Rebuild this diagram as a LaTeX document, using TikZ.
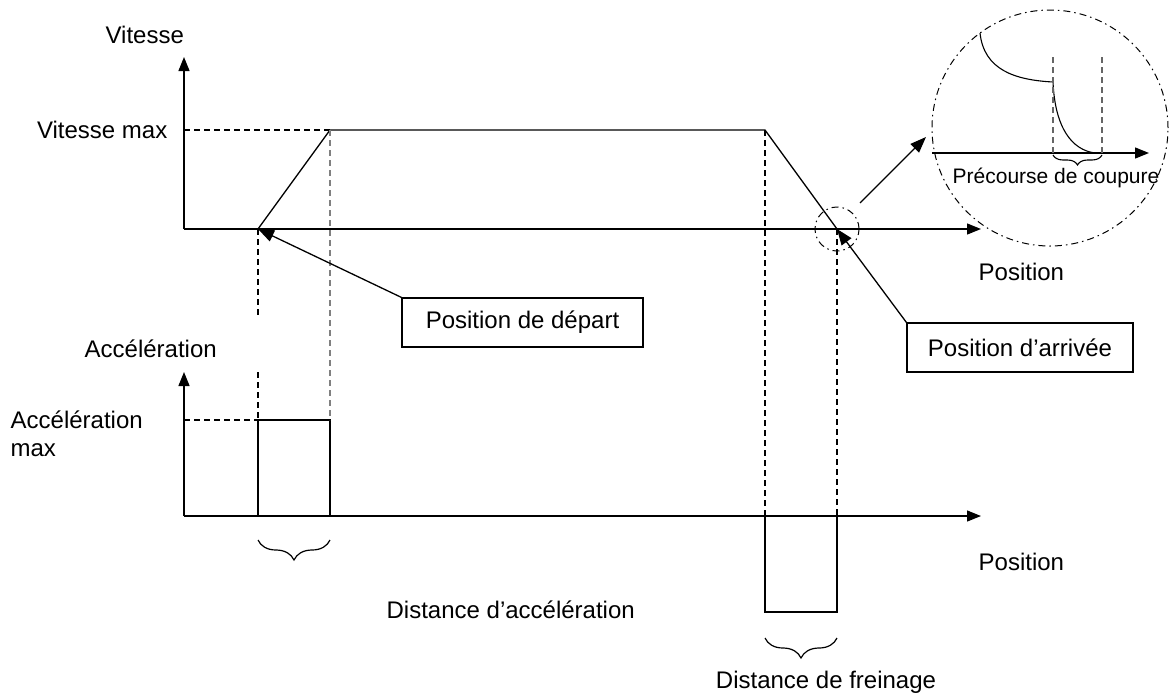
\documentclass[tikz,border=0pt]{standalone}
\usepackage{fontspec}
\setmainfont{Liberation Sans}
\usetikzlibrary{arrows.meta,decorations.pathreplacing}
\begin{document}
\begin{tikzpicture}[x=1pt,y=-1pt,
  line width=1.3pt,
  axis/.style={-{Triangle[length=14pt,width=11pt]}},
  guide/.style={dash pattern=on 6pt off 4pt, line width=1.1pt},
  dashdot/.style={dash pattern=on 7pt off 4pt on 1.5pt off 4pt, line width=1pt},
  lbl/.style={font=\fontsize{24}{28}\selectfont, inner sep=0pt, anchor=west},
  callout/.style={draw, line width=1.2pt, font=\fontsize{24}{28}\selectfont, inner sep=0pt},
  brc/.style={decorate, decoration={brace,amplitude=20pt}, line width=1.2pt},
  pointer/.style={-{Triangle[length=16pt,width=12pt]}, line width=1.3pt}
]
\useasboundingbox (0,0) rectangle (1170,697);

% ---------- velocity diagram ----------
\coordinate (vo) at (184,229);
\coordinate (vtop) at (184,57);
\coordinate (vend) at (981,229);
\coordinate (p0) at (258,229);
\coordinate (p1) at (330,130);
\coordinate (p2) at (765,130);
\coordinate (p3) at (837,229);
\coordinate (vmax) at (184,130);

\draw[axis] (vo) -- (vtop);
\draw[axis] (vo) -- (vend);
\draw[guide] (vmax) -- (p1);
\draw (p0) -- (p1) -- (p2) -- (p3);

% ---------- acceleration diagram ----------
\coordinate (ao) at (184,516);
\coordinate (atop) at (184,372);
\coordinate (aend) at (981,516);
\coordinate (amax) at (184,420);
\coordinate (a0) at (258,516);
\coordinate (a0t) at (258,420);
\coordinate (a1t) at (330,420);
\coordinate (a1) at (330,516);
\coordinate (b0) at (765,516);
\coordinate (b0b) at (765,612);
\coordinate (b1b) at (837,612);
\coordinate (b1) at (837,516);

\draw[axis] (ao) -- (atop);
\draw[axis] (ao) -- (aend);
\draw[guide] (amax) -- (a0t);
\draw (a0) -- (a0t) -- (a1t) -- (a1);
\draw (b0) -- (b0b) -- (b1b) -- (b1);

% ---------- guides ----------
\draw[guide] (p0) -- (258,318);
\draw[guide] (258,372) -- (a0t);
\draw[guide, draw=gray] (p1) -- (a1t);
\draw[guide] (p2) -- (b0);
\draw[guide] (p3) -- (b1b);

% ---------- braces ----------
\draw[brc] (330,540) -- (258,540);
\draw[brc] (837,638) -- (765,638);

% ---------- labels ----------
\node[lbl] (tv) at (105,35) {Vitesse};
\node[lbl, anchor=east] (tvmax) at (168,130) {Vitesse max};
\node[lbl] (ta) at (84,349) {Accélération};
\node[lbl, align=left, anchor=north west] (tamax) at (10,410) {Accélération\\max};
\node[lbl] (tpos1) at (978,272) {Position};
\node[lbl] (tpos2) at (978,562) {Position};
\node[lbl] (tdacc) at (386,610) {Distance d’accélération};
\node[lbl, anchor=center] (tdfrein) at (826,682) {Distance de freinage};

% ---------- callouts ----------
\node[callout, minimum width=241pt, minimum height=49pt] (dep) at (522.5,322.5) {Position de départ};
\node[callout, minimum width=226pt, minimum height=49pt] (arr) at (1020,347.5) {Position d’arrivée};
\draw[pointer] (dep.north west) -- (p0);
\draw[pointer] (arr.north west) -- (p3);

% ---------- zoom circle ----------
\node[draw, dashdot, circle, minimum size=44pt, inner sep=0pt] (small) at (p3) {};
\node[draw, dashdot, circle, minimum size=236pt, inner sep=0pt] (big) at (1050,128) {};
\draw[pointer] (860,203) -- (926,137);

\coordinate (zo) at (932,153);
\coordinate (zend) at (1149,153);
\coordinate (c0) at (980,33);
\coordinate (c1) at (1053,82);
\coordinate (c2) at (1095,153);
\draw[axis] (zo) -- (zend);
\draw[line width=1.1pt] (c0) .. controls (984,70) and (1015,80) .. (c1);
\draw[line width=1.1pt] (c1) .. controls (1055,128) and (1072,150) .. (c2);
\draw[guide, draw=gray!80!black] (1053,57) -- (1053,155);
\draw[guide, draw=gray!80!black] (1102,57) -- (1102,155);
\draw[decorate, decoration={brace,amplitude=10pt}, line width=1.1pt] (1102,155) -- (1053,155);
\node[font=\fontsize{21}{25}\selectfont, inner sep=0pt] (tpre) at (1056,178) {Précourse de coupure};

\end{tikzpicture}
\end{document}
